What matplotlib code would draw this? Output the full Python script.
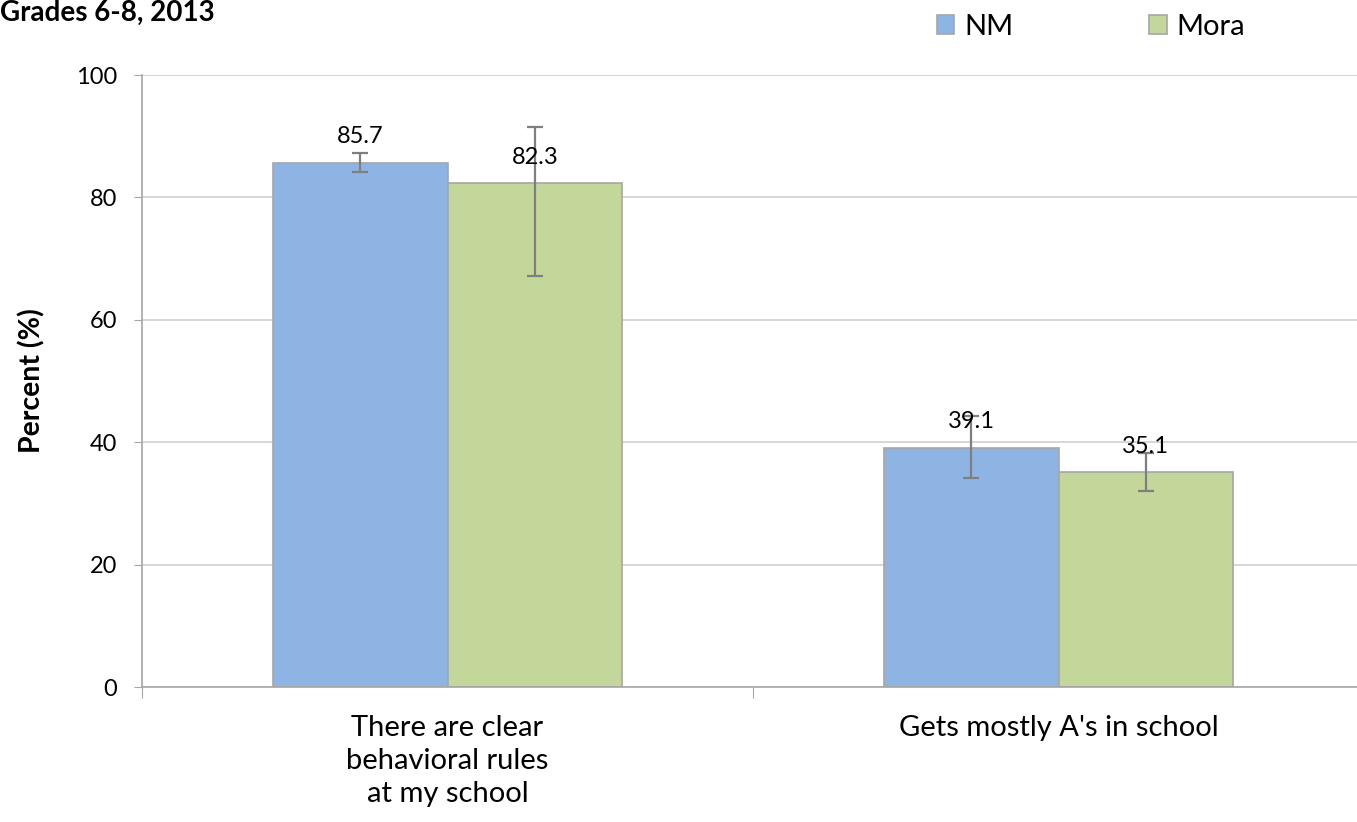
import numpy as np
import matplotlib.pyplot as plt

plt.rcParams['font.family'] = ['Lato', 'DejaVu Sans']

# data
categories = ["There are clear\nbehavioral rules\nat my school", "Gets mostly A's in school"]
series_names = ["NM", "Mora"]
nm_values = [85.7, 39.1]
mora_values = [82.3, 35.1]
# confidence intervals (lower, upper)
nm_lower = [84.1, 34.2]
nm_upper = [87.3, 44.2]
mora_lower = [67.2, 32.0]
mora_upper = [91.5, 38.3]
y_ticks = [0, 20, 40, 60, 80, 100]

nm_color = '#8EB4E3'
mora_color = '#C4D79B'
edge = '#A6A6A6'
err_color = '#7F7F7F'

fig = plt.figure(figsize=(13.57, 8.22), dpi=100)
ax = fig.add_axes([142 / 1357, 1 - 687 / 822, (1364 - 142) / 1357, (687 - 75) / 822])

x = np.arange(len(categories))
w = 0.286

nm_err = [np.array(nm_values) - np.array(nm_lower), np.array(nm_upper) - np.array(nm_values)]
mora_err = [np.array(mora_values) - np.array(mora_lower), np.array(mora_upper) - np.array(mora_values)]

b1 = ax.bar(x - w / 2, nm_values, w, color=nm_color, edgecolor=edge, linewidth=1.2,
            label=series_names[0], zorder=2)
b2 = ax.bar(x + w / 2, mora_values, w, color=mora_color, edgecolor=edge, linewidth=1.2,
            label=series_names[1], zorder=2)
ax.errorbar(x - w / 2, nm_values, yerr=nm_err, fmt='none', ecolor=err_color,
            elinewidth=1.6, capsize=6, capthick=1.6, zorder=3)
ax.errorbar(x + w / 2, mora_values, yerr=mora_err, fmt='none', ecolor=err_color,
            elinewidth=1.6, capsize=6, capthick=1.6, zorder=3)

# data labels
for bars in (b1, b2):
    for r in bars:
        ax.annotate(f"{r.get_height():.1f}", (r.get_x() + r.get_width() / 2, r.get_height()),
                    xytext=(0, 26), textcoords='offset pixels', ha='center', va='center',
                    fontsize=17, zorder=4)

ax.set_xlim(-0.5, 1.5)
ax.set_ylim(0, 100)
ax.set_yticks(y_ticks)
ax.tick_params(axis='y', labelsize=17, length=6, color=edge, pad=12)
ax.set_xticks([-0.5, 0.5, 1.5], minor=False)
ax.set_xticklabels([])
ax.tick_params(axis='x', length=8, color=edge)
ax.set_xticks(x, minor=True)
ax.set_xticklabels(categories, minor=True, fontsize=21, linespacing=1.35)
ax.tick_params(axis='x', which='minor', length=0, pad=20)

ax.yaxis.grid(True, color='#D0D0D0', linewidth=1.2, zorder=0)
ax.set_axisbelow(True)
for s in ['top', 'right']:
    ax.spines[s].set_visible(False)
for s in ['left', 'bottom']:
    ax.spines[s].set_color(edge)
    ax.spines[s].set_linewidth(1.2)

ax.set_ylabel('Percent (%)', fontsize=20.5, fontweight='bold', labelpad=22)

fig.text(0.0, 1 - 21 / 822, 'Grades 6-8, 2013', fontsize=20, fontweight='bold', va='baseline', ha='left')

fig.legend(handles=[b1, b2], loc='center left', bbox_to_anchor=(925 / 1357, 1 - 27 / 822),
           ncol=2, frameon=False, fontsize=21, handlelength=0.6, handleheight=0.6,
           handletextpad=0.35, columnspacing=4.65, borderaxespad=0)

fig.savefig('out.png', dpi=100)
